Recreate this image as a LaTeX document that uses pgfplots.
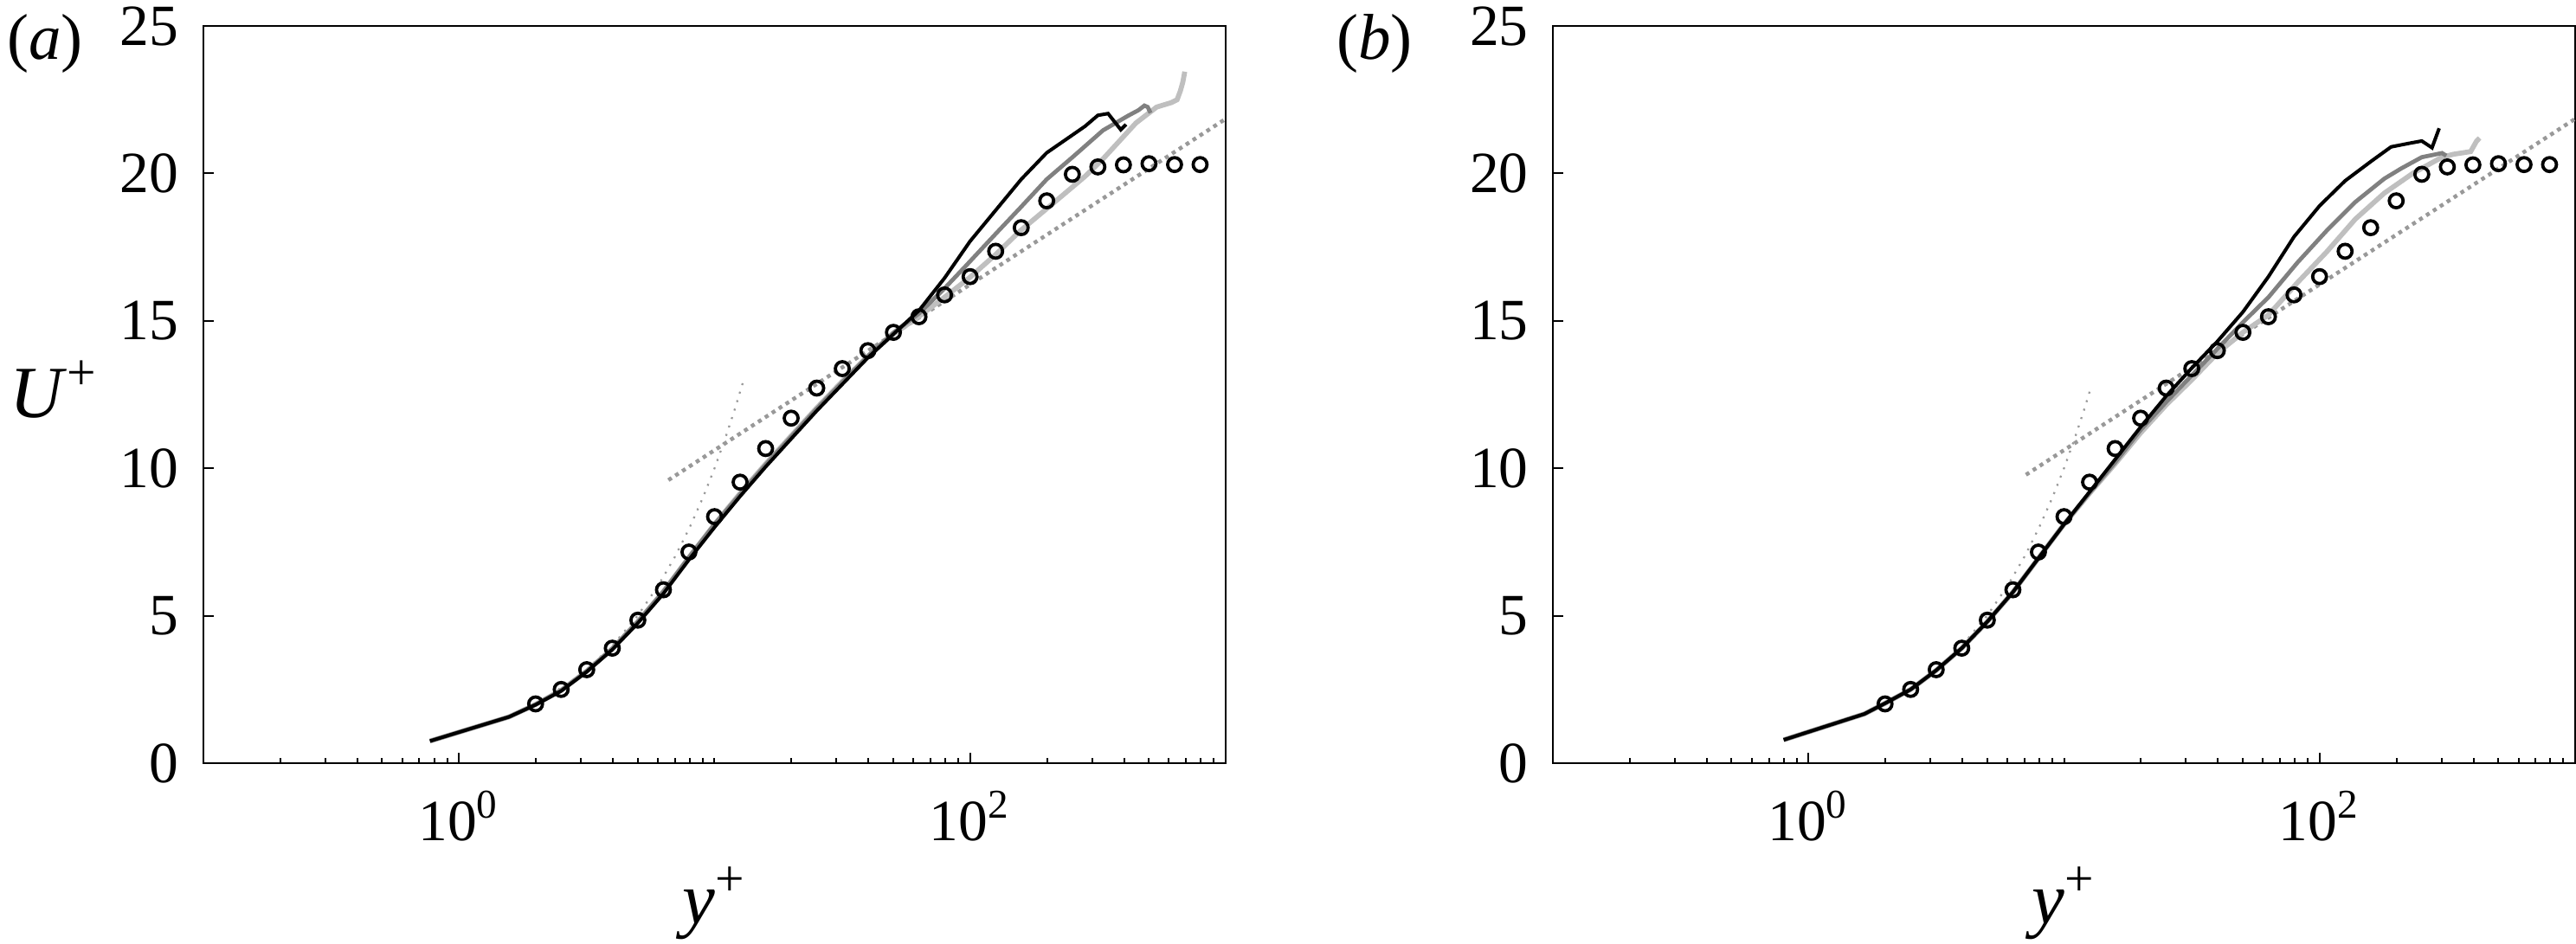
\documentclass[border=0pt]{standalone}
\usepackage{fontspec}
\setmainfont{Liberation Serif}
\usepackage{pgfplots}
\pgfplotsset{compat=1.18}
\usepackage{pgfplotstable}

\definecolor{dgray}{gray}{0.50}
\definecolor{lgray}{gray}{0.75}
\definecolor{dotgray}{gray}{0.60}

% reference data (circles), shared by both panels
\pgfplotstableread{
x U
1.995 2.01
2.512 2.50
3.162 3.17
3.981 3.90
5.012 4.85
6.310 5.88
7.943 7.16
10.00 8.36
12.59 9.53
15.85 10.67
19.95 11.70
25.12 12.72
31.62 13.38
39.81 13.99
50.12 14.61
63.10 15.14
79.43 15.88
100.0 16.50
125.9 17.36
158.5 18.16
199.5 19.07
251.2 19.97
316.2 20.22
398.1 20.29
501.2 20.33
631.0 20.30
794.3 20.30
}\refdata

\pgfplotsset{
  myaxis/.style={
    scale only axis,
    width=236.2pt, height=170.4pt,
    xmin=0.1, xmax=1000,
    ymin=0, ymax=25,
    ytick={0,5,10,15,20,25},
    xtick={1,100},
    xticklabels={10\textsuperscript{0},10\textsuperscript{2}},
    minor xtick={0.2,0.3,0.4,0.5,0.6,0.7,0.8,0.9,2,3,4,5,6,7,8,9,10,20,30,40,50,60,70,80,90,200,300,400,500,600,700,800,900},
    xtick pos=bottom, ytick pos=left,
    tick align=inside,
    major tick length=2.4pt, minor tick length=1.3pt,
    every tick/.style={black, line width=0.4pt},
    axis line style={black, line width=0.45pt},
    yticklabel style={/pgf/number format/assume math mode=true, inner sep=0pt, xshift=-5.5pt},
    tick label style={font=\fontsize{13.5}{15}\selectfont},
    xticklabel style={anchor=center, yshift=-12.2pt},
    label style={font=\fontsize{17}{19}\selectfont},
    xlabel={\textit{y}\textsuperscript{+}},
    xlabel style={at={(axis description cs:0.5,-0.19)}, anchor=center},
  },
  refmark/.style={only marks, mark=o, mark size=1.6pt, mark options={black, line width=0.75pt, solid}},
  loglaw/.style={dotgray, line width=0.9pt, dash pattern=on 0.9pt off 1.0pt},
  visc/.style={dotgray, line width=0.45pt, dash pattern=on 0.45pt off 1.6pt},
  lgline/.style={lgray, line width=1.15pt},
  dgline/.style={dgray, line width=0.95pt},
  bkline/.style={black, line width=0.8pt},
}

\begin{document}
\begin{tikzpicture}
\path[use as bounding box] (-47pt,-41.6pt) rectangle (548.2pt,176.4pt);

% ---------------- panel (a) ----------------
\begin{semilogxaxis}[myaxis, at={(0pt,0pt)}, anchor=south west,
  ylabel={\textit{U}\textsuperscript{+}},
  ylabel style={at={(axis description cs:-0.146,0.507)}, rotate=-90, anchor=center}]
\addplot[visc] coordinates {(2,2) (3,3) (4,4) (5,5) (6,6) (7,7) (8,8) (9,9) (10,10) (11,11) (12,12) (12.9,12.9)};
\addplot[loglaw] coordinates {(6.6,9.6) (1000,21.85)};
\addplot[lgline] coordinates {(0.77,0.75) (1.57,1.57) (1.995,1.99) (2.512,2.47) (3.162,3.12) (3.981,3.88) (5.012,4.8) (6.31,5.82) (7.943,6.98) (10,8.1) (12.59,9.15) (15.85,10.15) (19.95,11.1) (25.12,12.05) (31.62,12.95) (39.81,13.8) (50.12,14.55) (63.1,15.15) (79.43,15.8) (100,16.48) (125.9,17.25) (157,18.05) (227.5,19.22) (281.8,19.9) (331.1,20.49) (445.6,21.71) (537,22.25) (612.4,22.4) (645.7,22.5) (665,22.8) (680,23.1) (691.8,23.45)};
\addplot[dgline] coordinates {(0.77,0.75) (1.57,1.57) (1.995,1.99) (2.512,2.47) (3.162,3.12) (3.981,3.88) (5.012,4.8) (6.31,5.82) (7.943,6.98) (10,8.1) (12.59,9.12) (15.85,10.12) (19.95,11.07) (25.12,12.02) (31.62,12.92) (39.81,13.8) (50.12,14.6) (63.1,15.25) (79.43,16.1) (96.6,16.88) (125.9,17.95) (157,18.83) (199.5,19.8) (254.7,20.59) (331.1,21.46) (414,21.95) (457.1,22.15) (480.8,22.3) (495.5,22.25) (508.2,22.05)};
\addplot[bkline] coordinates {(0.77,0.75) (1.57,1.57) (1.995,1.98) (2.512,2.45) (3.162,3.1) (3.981,3.85) (5.012,4.75) (6.31,5.75) (7.943,6.9) (10,8.0) (12.59,9.05) (15.85,10.05) (19.95,11.0) (25.12,11.95) (31.62,12.85) (39.81,13.75) (50.12,14.55) (63.1,15.35) (79.43,16.45) (100,17.7) (125.9,18.75) (158.5,19.8) (199.5,20.7) (251.2,21.3) (281.8,21.6) (316.2,21.97) (346.7,22.03) (389,21.48) (407.4,21.66)};
\addplot[refmark] table[x=x, y=U] {\refdata};
\end{semilogxaxis}
\node[font=\fontsize{15}{17}\selectfont] at (-36.6pt,166.4pt) {(\textit{a})};

% ---------------- panel (b) ----------------
\begin{semilogxaxis}[myaxis, at={(311.8pt,0pt)}, anchor=south west]
\addplot[visc] coordinates {(2,2) (3,3) (4,4) (5,5) (6,6) (7,7) (8,8) (9,9) (10,10) (11,11) (12,12) (12.6,12.6)};
\addplot[loglaw] coordinates {(7.1,9.78) (1000,21.85)};
\addplot[lgline] coordinates {(0.8,0.79) (1.656,1.67) (1.995,2.03) (2.512,2.5) (3.162,3.15) (3.981,3.9) (5.012,4.8) (6.31,5.8) (7.943,6.95) (10,8.1) (12.59,9.15) (15.85,10.15) (19.95,11.2) (25.12,12.15) (31.62,13.0) (39.81,13.9) (50.12,14.61) (63.1,15.2) (82.0,16.3) (106.4,17.33) (138.0,18.45) (179.1,19.33) (232.3,20.01) (301.3,20.55) (334.2,20.65) (390,20.74) (411.1,21.09) (422.7,21.2)};
\addplot[dgline] coordinates {(0.8,0.79) (1.656,1.67) (1.995,2.03) (2.512,2.5) (3.162,3.15) (3.981,3.9) (5.012,4.8) (6.31,5.8) (7.943,6.95) (10,8.1) (12.59,9.17) (15.85,10.2) (19.95,11.3) (25.12,12.25) (31.62,13.15) (39.81,14.05) (50.12,14.95) (63.1,15.8) (82.0,16.98) (106.4,18.05) (138.0,19.03) (179.1,19.82) (208.9,20.17) (251.2,20.55) (301.3,20.69) (313.3,20.6)};
\addplot[bkline] coordinates {(0.8,0.79) (1.656,1.67) (1.995,2.03) (2.512,2.5) (3.162,3.15) (3.981,3.9) (5.012,4.8) (6.31,5.8) (7.943,6.95) (10,8.1) (12.59,9.2) (15.85,10.3) (19.95,11.4) (25.12,12.45) (31.62,13.4) (39.81,14.3) (50.12,15.3) (63.1,16.5) (79.43,17.85) (100,18.9) (125.9,19.75) (158.5,20.4) (190.5,20.9) (223.9,21.02) (251.2,21.1) (275.4,20.87) (293.8,21.53)};
\addplot[refmark] table[x=x, y=U] {\refdata};
\end{semilogxaxis}
\node[font=\fontsize{15}{17}\selectfont] at (270.6pt,166.4pt) {(\textit{b})};
\end{tikzpicture}
\end{document}
